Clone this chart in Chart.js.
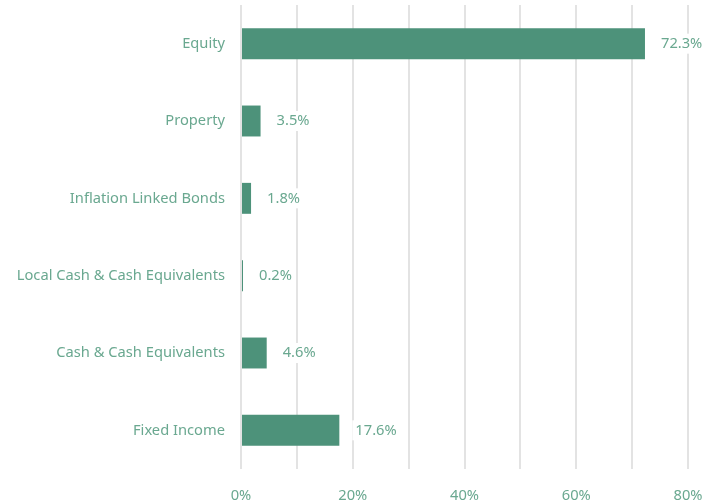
<!DOCTYPE html>
<html>
<head>
<meta charset="utf-8">
<script src="https://cdn.jsdelivr.net/npm/chart.js@4.4.0/dist/chart.umd.min.js"></script>
<style>
  html, body { margin: 0; padding: 0; background: #fff; }
  #wrap { width: 702px; height: 504px; }
</style>
</head>
<body>
<div id="wrap"><canvas id="allocChart"></canvas></div>
<script>
// --- Data ---
const categories = [
    'Equity',
    'Property',
    'Inflation Linked Bonds',
    'Local Cash & Cash Equivalents',
    'Cash & Cash Equivalents',
    'Fixed Income'
];
const allocation = [72.3, 3.5, 1.8, 0.2, 4.6, 17.6];
const tickLabels = ['0%', '20%', '40%', '60%', '80%'];

const BAR_COLOR = '#4d927a';
const TEXT_COLOR = '#6aa890';
const FONT = { family: "'Noto Sans', sans-serif", size: 14.7 };

// value labels to the right of each bar, on a white box so gridlines break behind them
const valueLabels = {
    id: 'valueLabels',
    afterDatasetsDraw(chart) {
        const ctx = chart.ctx;
        const meta = chart.getDatasetMeta(0);
        ctx.save();
        ctx.font = `${FONT.size}px ${FONT.family}`;
        ctx.textBaseline = 'middle';
        ctx.textAlign = 'left';
        meta.data.forEach((bar, i) => {
            const text = allocation[i].toFixed(1) + '%';
            const x = bar.x + 16;
            const w = ctx.measureText(text).width;
            ctx.fillStyle = '#fff';
            ctx.fillRect(x - 3, bar.y - 10, w + 6, 20);
            ctx.fillStyle = TEXT_COLOR;
            ctx.fillText(text, x, bar.y);
        });
        ctx.restore();
    }
};

const ctx = document.getElementById('allocChart').getContext('2d');
new Chart(ctx, {
    type: 'bar',
    data: {
        labels: categories,
        datasets: [{
            data: allocation,
            backgroundColor: BAR_COLOR,
            barPercentage: 0.8,
            categoryPercentage: 0.5,
            minBarLength: 2
        }]
    },
    options: {
        indexAxis: 'y',
        responsive: true,
        maintainAspectRatio: false,
        animation: false,
        layout: { padding: { top: 5, right: 14, left: 0, bottom: 0 } },
        plugins: { legend: { display: false }, tooltip: { enabled: false } },
        scales: {
            x: {
                min: 0,
                max: 80,
                border: { display: false },
                grid: { color: '#e3e3e3', lineWidth: 2, drawTicks: false },
                ticks: {
                    stepSize: 10,
                    padding: 18,
                    color: TEXT_COLOR,
                    font: FONT,
                    callback: v => (v % 20 === 0 ? tickLabels[v / 20] : '')
                },
                afterFit: s => {
                    s.height = 35;
                    s.paddingLeft = 0;
                    s.paddingRight = 0;
                }
            },
            y: {
                border: { display: false },
                grid: { display: false },
                ticks: { color: TEXT_COLOR, font: FONT, padding: 8 },
                afterFit: s => {
                    s.width = 241;
                    s.paddingTop = 0;
                    s.paddingBottom = 0;
                }
            }
        }
    },
    plugins: [valueLabels]
});
</script>
</body>
</html>
